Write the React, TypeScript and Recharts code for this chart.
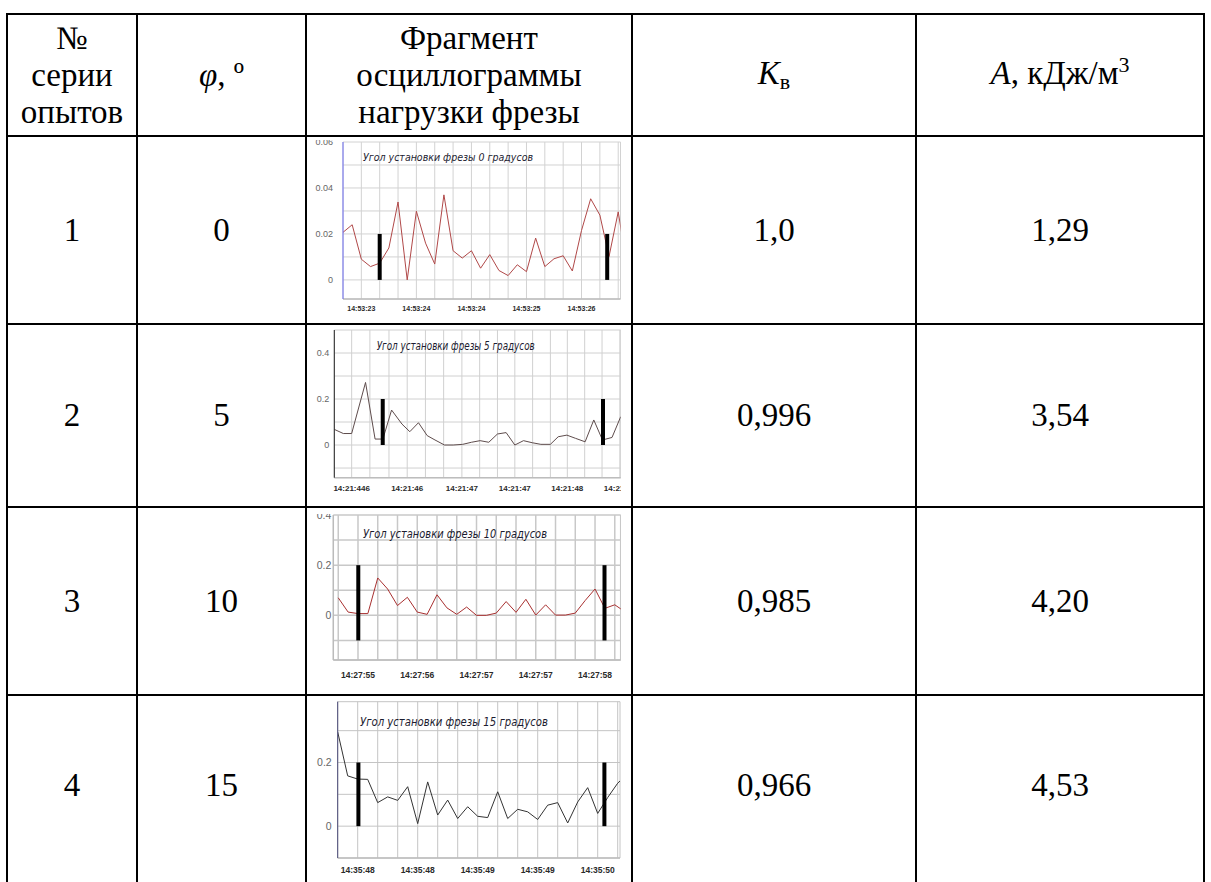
import React from 'react'
import { CartesianGrid, Line, LineChart, ReferenceLine, XAxis, YAxis } from 'recharts'

// table values
const seriesNo = ['1', '2', '3', '4']
const angles = ['0', '5', '10', '15']
const kValues = ['1,0', '0,996', '0,985', '0,966']
const aValues = ['1,29', '3,54', '4,20', '4,53']

// oscillogram 0 deg (regular samples)
const load0 = [0.0207, 0.024, 0.009, 0.0058, 0.0073, 0.0139, 0.0339, 0.0, 0.0299, 0.016, 0.0069, 0.037, 0.0127, 0.0095, 0.0127, 0.0051, 0.011, 0.0041, 0.0019, 0.0066, 0.0036, 0.0182, 0.0058, 0.0092, 0.0105, 0.0039, 0.0215, 0.0353, 0.0282, 0.0102, 0.0296, 0.005]
const grid0 = [0, 2, 4, 6, 8, 10, 12, 14, 16, 18, 20, 22, 24, 26, 28, 30]
const labelPos0 = [2, 8, 14, 20, 26]
const labels0 = ['14:53:23', '14:53:24', '14:53:24', '14:53:25', '14:53:26']
const marks0 = [4, 28.8]

// oscillogram 5 deg (irregular samples)
const time5 = [0, 1.04, 2.0, 3.6, 4.7, 5.6, 6.6, 7.8, 8.7, 9.7, 10.7, 11.6, 12.7, 13.7, 14.8, 15.8, 16.8, 17.8, 18.8, 19.8, 20.8, 21.8, 22.8, 23.8, 24.9, 25.8, 26.8, 27.8, 28.9, 29.9, 30.9, 32.0, 33.0]
const load5 = [0.068, 0.05, 0.05, 0.272, 0.026, 0.026, 0.152, 0.091, 0.058, 0.097, 0.041, 0.022, 0.0, 0.0, 0.003, 0.012, 0.019, 0.012, 0.048, 0.054, 0.0, 0.019, 0.01, 0.003, 0.003, 0.036, 0.043, 0.029, 0.014, 0.109, 0.022, 0.033, 0.123]
const grid5 = [2.0, 4.1, 6.3, 8.4, 10.5, 12.6, 14.7, 16.75, 18.8, 20.8, 22.85, 24.9, 26.85, 28.85, 30.85, 32.9]
const labelPos5 = [2.0, 8.4, 14.7, 20.8, 26.85, 32.9]
const labels5 = ['14:21:446', '14:21:46', '14:21:47', '14:21:47', '14:21:48', '14:21:49']
const marks5 = [5.58, 30.96]

// oscillogram 10 deg
const load10 = [0.07, 0.013, 0.007, 0.007, 0.149, 0.105, 0.039, 0.072, 0.013, 0.004, 0.082, 0.03, 0.004, 0.033, 0.0, 0.0, 0.009, 0.055, 0.012, 0.064, 0.001, 0.042, 0.001, 0.001, 0.009, 0.059, 0.105, 0.028, 0.042, 0.015]
const grid10 = [0, 2, 4, 6, 8, 10, 12, 14, 16, 18, 20, 22, 24, 26, 28]
const labelPos10 = [2, 8, 14, 20, 26]
const labels10 = ['14:27:55', '14:27:56', '14:27:57', '14:27:57', '14:27:58']
const marks10 = [2.03, 26.96]

// oscillogram 15 deg
const load15 = [0.296, 0.158, 0.148, 0.147, 0.074, 0.092, 0.081, 0.124, 0.008, 0.139, 0.035, 0.082, 0.024, 0.061, 0.031, 0.027, 0.108, 0.024, 0.053, 0.045, 0.021, 0.066, 0.074, 0.01, 0.076, 0.121, 0.04, 0.09, 0.135, 0.165]
const grid15 = [0, 2, 4, 6, 8, 10, 12, 14, 16, 18, 20, 22, 24, 26, 28]
const labelPos15 = [2, 8, 14, 20, 26]
const labels15 = ['14:35:48', '14:35:48', '14:35:49', '14:35:49', '14:35:50']
const marks15 = [2.07, 26.67]

const serif = '"Liberation Serif", "Times New Roman", Times, "DejaVu Serif", serif'
const sans = '"Liberation Sans", Arial, sans-serif'
const narrow = '"Liberation Sans Narrow", "DejaVu Sans Condensed", "Liberation Sans", sans-serif'

type Osc = {
  data: { x: number; y: number }[]
  marks: { x: number; y0: number; y1: number }[]
  box: { left: number; top: number; right: number; bottom: number }
  plot: { left: number; top: number; right: number; bottom: number }
  xDomain: [number, number]
  yDomain: [number, number]
  xTicks: number[]
  xLabelPos: number[]
  xLabels: string[]
  yTicks: number[]
  yLabels: number[]
  lineColor: string
  axisColor: string
  gridColor: string
  gridWidth: number
  xFont: number
  yFont: number
  xGap: number
  yGap: number
  title: string
  titleAt: { x: number; y: number; w: number; size: number }
}

const osc0: Osc = {
  data: load0.map((y, i) => ({ x: i, y })),
  marks: marks0.map((x) => ({ x, y0: 0, y1: 0.02 })),
  box: { left: 309, top: 140, right: 621, bottom: 322 },
  plot: { left: 343, top: 142, right: 620.5, bottom: 299 },
  xDomain: [0, 30.25],
  yDomain: [-0.0083, 0.06],
  xTicks: grid0,
  xLabelPos: labelPos0,
  xLabels: labels0,
  yTicks: [0, 0.01, 0.02, 0.03, 0.04, 0.05, 0.06],
  yLabels: [0, 0.02, 0.04, 0.06],
  lineColor: '#b04848',
  axisColor: '#6a6af0',
  gridColor: '#d2d2d2',
  gridWidth: 1,
  xFont: 7,
  yFont: 9,
  xGap: 7,
  yGap: 10,
  title: 'Угол установки фрезы 0 градусов',
  titleAt: { x: 363, y: 161, w: 170, size: 10 },
}

const osc5: Osc = {
  data: load5.map((y, i) => ({ x: time5[i], y })),
  marks: marks5.map((x) => ({ x, y0: 0, y1: 0.2 })),
  box: { left: 308, top: 326, right: 621, bottom: 505 },
  plot: { left: 334.3, top: 330, right: 620.7, bottom: 477.7 },
  xDomain: [0, 33.0],
  yDomain: [-0.142, 0.5],
  xTicks: grid5,
  xLabelPos: labelPos5,
  xLabels: labels5,
  yTicks: [-0.1, 0, 0.1, 0.2, 0.3, 0.4],
  yLabels: [0, 0.2, 0.4],
  lineColor: '#5e4c4c',
  axisColor: '#222',
  gridColor: '#d0d0d0',
  gridWidth: 1,
  xFont: 8,
  yFont: 9,
  xGap: 8,
  yGap: 5,
  title: 'Угол установки фрезы 5 градусов',
  titleAt: { x: 376.7, y: 350, w: 158, size: 12 },
}

const osc10: Osc = {
  data: load10.map((y, i) => ({ x: i, y })),
  marks: marks10.map((x) => ({ x, y0: -0.1, y1: 0.2 })),
  box: { left: 308, top: 514, right: 621, bottom: 692 },
  plot: { left: 333.3, top: 515, right: 620.7, bottom: 660 },
  xDomain: [-0.5, 28.6],
  yDomain: [-0.178, 0.4],
  xTicks: grid10,
  xLabelPos: labelPos10,
  xLabels: labels10,
  yTicks: [-0.1, 0, 0.1, 0.2, 0.3, 0.4],
  yLabels: [0, 0.2, 0.4],
  lineColor: '#a83030',
  axisColor: '#b8b8b8',
  gridColor: '#c8c8c8',
  gridWidth: 1.5,
  xFont: 8.5,
  yFont: 10.5,
  xGap: 12,
  yGap: 2,
  title: 'Угол установки фрезы 10 градусов',
  titleAt: { x: 363, y: 538, w: 184, size: 13 },
}

const osc15: Osc = {
  data: load15.map((y, i) => ({ x: i, y })),
  marks: marks15.map((x) => ({ x, y0: 0, y1: 0.2 })),
  box: { left: 308, top: 697, right: 621, bottom: 882 },
  plot: { left: 337.7, top: 701.7, right: 620, bottom: 858 },
  xDomain: [0, 28.23],
  yDomain: [-0.1, 0.391],
  xTicks: grid15,
  xLabelPos: labelPos15,
  xLabels: labels15,
  yTicks: [-0.1, 0, 0.1, 0.2, 0.3],
  yLabels: [0, 0.2],
  lineColor: '#333',
  axisColor: '#4a4a78',
  gridColor: '#c4c4c4',
  gridWidth: 1,
  xFont: 8.5,
  yFont: 10.5,
  xGap: 9,
  yGap: 6,
  title: 'Угол установки фрезы 15 градусов',
  titleAt: { x: 360, y: 725.7, w: 188, size: 12 },
}

const charts = [osc0, osc5, osc10, osc15]

const Oscillogram = ({ c }: { c: Osc }) => {
  const w = c.box.right - c.box.left
  const h = c.box.bottom - c.box.top
  const xLabel = (v: number) => {
    const i = c.xLabelPos.indexOf(v)
    return i >= 0 ? c.xLabels[i] : ''
  }
  const yLabel = (v: number) => (c.yLabels.includes(v) ? String(v) : '')
  return (
    <div style={{ position: 'absolute', left: c.box.left, top: c.box.top, width: w, height: h, overflow: 'hidden', background: '#fff' }}>
      <LineChart
        width={w}
        height={h}
        data={c.data}
        margin={{ top: c.plot.top - c.box.top, right: c.box.right - c.plot.right, left: 0, bottom: 0 }}
      >
        <CartesianGrid stroke={c.gridColor} strokeWidth={c.gridWidth} />
        <XAxis
          type="number"
          dataKey="x"
          domain={c.xDomain}
          allowDataOverflow
          ticks={c.xTicks}
          interval={0}
          tickFormatter={xLabel}
          height={c.box.bottom - c.plot.bottom}
          tickLine={false}
          tickSize={c.xGap}
          tickMargin={0}
          axisLine={{ stroke: '#bdbdbd', strokeWidth: 1.5 }}
          tick={{ fontSize: c.xFont, fill: '#2a2a2a', fontWeight: 700, fontFamily: sans }}
        />
        <YAxis
          type="number"
          domain={c.yDomain}
          allowDataOverflow
          ticks={c.yTicks}
          interval={0}
          tickFormatter={yLabel}
          width={c.plot.left - c.box.left}
          tickLine={false}
          tickSize={c.yGap}
          tickMargin={0}
          axisLine={{ stroke: c.axisColor, strokeWidth: 1 }}
          tick={{ fontSize: c.yFont, fill: '#666', fontFamily: sans }}
        />
        <Line type="linear" dataKey="y" stroke={c.lineColor} strokeWidth={1} dot={false} isAnimationActive={false} />
        {c.marks.map((m, i) => (
          <ReferenceLine
            key={i}
            segment={[{ x: m.x, y: m.y0 }, { x: m.x, y: m.y1 }]}
            stroke="#000"
            strokeWidth={4}
          />
        ))}
      </LineChart>
      <svg width={w} height={h} style={{ position: 'absolute', left: 0, top: 0, pointerEvents: 'none' }}>
        <text
          x={c.titleAt.x - c.box.left}
          y={c.titleAt.y - c.box.top}
          textLength={c.titleAt.w}
          lengthAdjust="spacingAndGlyphs"
          fontFamily={narrow}
          fontStyle="italic"
          fontSize={c.titleAt.size}
          fill="#1c1c30"
        >
          {c.title}
        </text>
      </svg>
    </div>
  )
}

const colX = [7, 137, 306, 632, 916, 1204]
const rowY = [14, 136, 324, 507, 695, 875]

const Cell = ({ col, row, children }: { col: number; row: number; children: React.ReactNode }) => (
  <div
    style={{
      position: 'absolute',
      left: colX[col],
      top: rowY[row],
      width: colX[col + 1] - colX[col],
      height: rowY[row + 1] - rowY[row],
      display: 'flex',
      alignItems: 'center',
      justifyContent: 'center',
      textAlign: 'center',
      fontFamily: serif,
      fontSize: 33,
      lineHeight: '37px',
      color: '#000',
    }}
  >
    <div>{children}</div>
  </div>
)

export default function App() {
  return (
    <div style={{ position: 'absolute', left: 0, top: 0, width: 1211, height: 882, overflow: 'hidden', background: '#fff' }}>
      <Cell col={0} row={0}>
        №<br />серии<br />опытов
      </Cell>
      <Cell col={1} row={0}>
        <i>φ</i>, º
      </Cell>
      <Cell col={2} row={0}>
        Фрагмент<br />осциллограммы<br />нагрузки фрезы
      </Cell>
      <Cell col={3} row={0}>
        <i>K</i>
        <span style={{ fontSize: 22, position: 'relative', top: 5 }}>в</span>
      </Cell>
      <Cell col={4} row={0}>
        <i>A</i>, кДж/м<span style={{ fontSize: 22, position: 'relative', top: -12 }}>3</span>
      </Cell>
      {seriesNo.map((n, i) => (
        <React.Fragment key={n}>
          <Cell col={0} row={i + 1}>{n}</Cell>
          <Cell col={1} row={i + 1}>{angles[i]}</Cell>
          <Cell col={3} row={i + 1}>{kValues[i]}</Cell>
          <Cell col={4} row={i + 1}>{aValues[i]}</Cell>
        </React.Fragment>
      ))}
      {charts.map((c, i) => (
        <Oscillogram key={i} c={c} />
      ))}
      {colX.map((x) => (
        <div key={'v' + x} style={{ position: 'absolute', left: x - 1, top: rowY[0] - 1, width: 2, height: 882, background: '#000' }} />
      ))}
      {rowY.slice(0, 5).map((y) => (
        <div key={'h' + y} style={{ position: 'absolute', left: colX[0] - 1, top: y - 1, width: colX[5] - colX[0] + 2, height: 2, background: '#000' }} />
      ))}
    </div>
  )
}
